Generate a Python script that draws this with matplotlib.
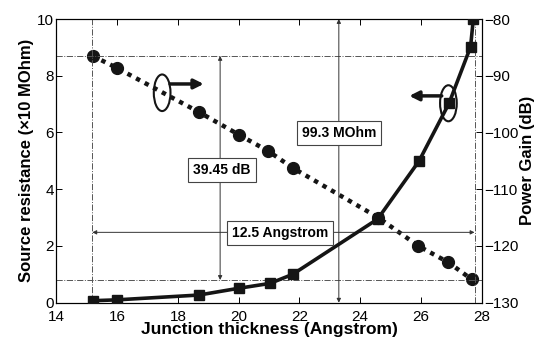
import numpy as np
import matplotlib
matplotlib.use("Agg")
import matplotlib.pyplot as plt
from matplotlib.patches import Ellipse

plt.rcParams['font.family'] = ['Liberation Sans', 'DejaVu Sans']

# source resistance (x10 MOhm), left axis
res_x = [15.19, 15.98, 18.69, 20.01, 21.03, 21.78, 24.58, 25.94, 26.93, 27.64, 27.73]
res_y = [0.07, 0.10, 0.27, 0.51, 0.68, 1.00, 2.95, 4.99, 7.03, 9.02, 10.0]

# power gain (dB), right axis
gain_x = [15.19, 15.98, 18.69, 20.01, 20.98, 21.80, 24.60, 25.92, 26.91, 27.68]
gain_y = [-86.5, -88.6, -96.4, -100.4, -103.3, -106.3, -115.0, -120.0, -122.9, -125.9]

x_ticks = [14, 16, 18, 20, 22, 24, 26, 28]
y_ticks = [0, 2, 4, 6, 8, 10]
g_ticks = [-130, -120, -110, -100, -90, -80]

ink = '#151515'
guide = '#555555'

fig = plt.figure(figsize=(5.34, 3.40), dpi=100)
ax = fig.add_axes([0.1058, 0.1097, 0.7959, 0.8344])
ax2 = ax.twinx()
ax.set_zorder(ax2.get_zorder() + 1)
ax.patch.set_visible(False)

ax.plot(res_x, res_y, '-s', color=ink, lw=2.6, ms=7, zorder=5)
ax2.plot(gain_x, gain_y, 'o', ls=(0, (1, 1.2)), color=ink, lw=3.2, ms=8.5, zorder=5)

ax.set_xlim(14, 28)
ax.set_ylim(0, 10)
ax2.set_ylim(-130, -80)
ax.set_xticks(x_ticks)
ax.set_yticks(y_ticks)
ax2.set_yticks(g_ticks)

ax.tick_params(axis='x', direction='in', top=True, labelsize=11, length=4, width=0.7, pad=5)
ax.tick_params(axis='y', direction='in', right=False, labelsize=11, length=4, width=0.7, pad=2)
ax2.tick_params(direction='in', labelsize=11, length=4, width=0.7, pad=2)
for a in (ax, ax2):
    for s in a.spines.values():
        s.set_linewidth(0.8)

ax.set_xlabel('Junction thickness (Angstrom)', fontsize=12.5, fontweight='bold', labelpad=-1)
ax.set_ylabel('Source resistance (\u00d710 MOhm)', fontsize=12, fontweight='bold', labelpad=2)
ax2.set_ylabel('Power Gain (dB)', fontsize=12, fontweight='bold', labelpad=1)

# guide lines (dash-dot)
for yv in (8.7, 0.8):
    ax.axhline(yv, color=guide, lw=0.7, ls='-.', zorder=1)
for xv in (15.18, 27.77):
    ax.axvline(xv, color=guide, lw=0.7, ls='-.', zorder=1)

# dimension arrows
arr = dict(arrowstyle='<|-|>', color='#333333', lw=0.7, mutation_scale=6, shrinkA=0, shrinkB=0)
ax.annotate('', xy=(19.39, 8.7), xytext=(19.39, 0.8), arrowprops=arr, zorder=2)
ax.annotate('', xy=(23.3, 10.0), xytext=(23.3, 0.0), arrowprops=arr, zorder=2)
ax.annotate('', xy=(15.18, 2.48), xytext=(27.77, 2.48), arrowprops=arr, zorder=2)

box = dict(boxstyle='square,pad=0.35', fc='white', ec='#444444', lw=0.8)
ax.text(19.45, 4.68, '39.45 dB', ha='center', va='center', fontsize=10, fontweight='bold', bbox=box, zorder=6)
ax.text(23.3, 5.98, '99.3 MOhm', ha='center', va='center', fontsize=10, fontweight='bold', bbox=box, zorder=6)
ax.text(21.35, 2.46, '12.5 Angstrom', ha='center', va='center', fontsize=10, fontweight='bold', bbox=box, zorder=6)

# series markers (ellipse + arrow pointing to its axis)
ax.add_patch(Ellipse((17.48, 7.40), 0.55, 1.29, fill=False, ec=ink, lw=1.5, zorder=6))
ax.annotate('', xy=(18.85, 7.71), xytext=(17.74, 7.71),
            arrowprops=dict(arrowstyle='-|>', color=ink, lw=2.5, mutation_scale=14, shrinkA=0, shrinkB=0), zorder=6)
ax.add_patch(Ellipse((26.91, 7.03), 0.55, 1.27, fill=False, ec=ink, lw=1.5, zorder=6))
ax.annotate('', xy=(25.62, 7.29), xytext=(26.69, 7.29),
            arrowprops=dict(arrowstyle='-|>', color=ink, lw=2.5, mutation_scale=14, shrinkA=0, shrinkB=0), zorder=6)

fig.savefig('out.png', dpi=100)
